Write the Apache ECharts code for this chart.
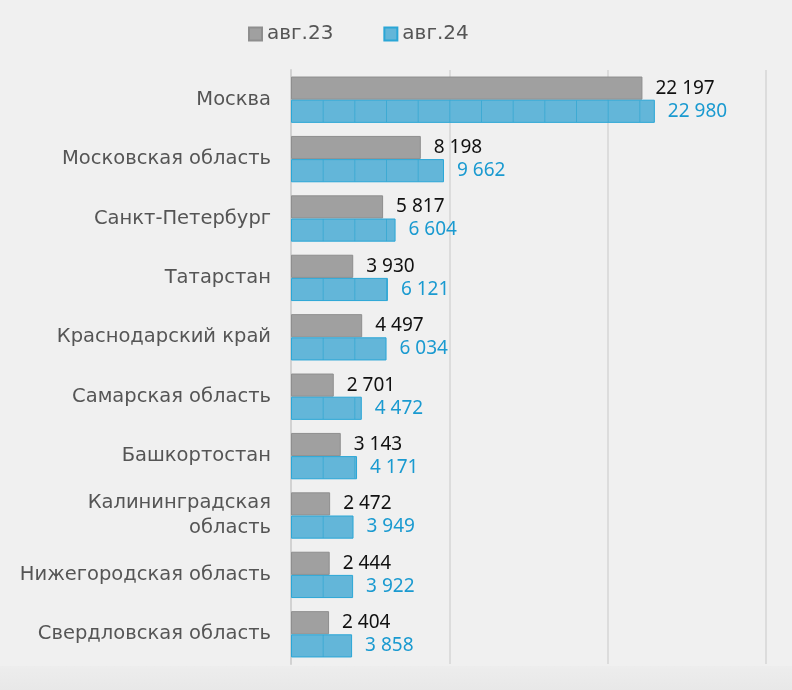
<!DOCTYPE html>
<html>
<head>
<meta charset="utf-8">
<script src="https://cdn.jsdelivr.net/npm/echarts@6/dist/echarts.min.js"></script>
<style>
  html, body { margin: 0; padding: 0; background: #f0f0f0; }
  #chart { width: 792px; height: 690px; }
</style>
</head>
<body>
<div id="chart"></div>
<script>
var regions = [
  "Москва",
  "Московская область",
  "Санкт-Петербург",
  "Татарстан",
  "Краснодарский край",
  "Самарская область",
  "Башкортостан",
  "Калининградская\nобласть",
  "Нижегородская область",
  "Свердловская область"
];
var aug23 = [22197, 8198, 5817, 3930, 4497, 2701, 3143, 2472, 2444, 2404];
var aug24 = [22980, 9662, 6604, 6121, 6034, 4472, 4171, 3949, 3922, 3858];
var seriesNames = ["авг.23", "авг.24"];
var axisMax = 30000;
var axisStep = 10000;
var stripeStep = 2000;

var FONT = "Noto Sans";
var CAT_FONT = "DejaVu Sans";

function fmt(v) {
  return String(v).replace(/\B(?=(\d{3})+(?!\d))/g, " ");
}

var chart = echarts.init(document.getElementById("chart"), null, { renderer: "canvas" });

function getOption(blueFill) {
  return {
    backgroundColor: "#f0f0f0",
    animation: false,
    legend: {
      top: 19,
      left: 243,
      itemWidth: 13,
      itemHeight: 13,
      itemGap: 50,
      icon: "rect",
      textStyle: { fontFamily: CAT_FONT, fontSize: 20, color: "#555" },
      data: [
        { name: seriesNames[0], itemStyle: { color: "#a0a0a0", borderColor: "#8e8e8e" } },
        { name: seriesNames[1], itemStyle: { color: "#63b6d9", borderColor: "#2aa6d6" } }
      ]
    },
    graphic: [{
      type: "rect",
      left: 0,
      bottom: 0,
      shape: { width: 792, height: 24 },
      style: {
        fill: new echarts.graphic.LinearGradient(0, 0, 0, 1, [
          { offset: 0, color: "#ededed" },
          { offset: 1, color: "#e8e8e8" }
        ])
      },
      z: -1
    }],
    grid: { left: 291, right: 26, top: 70, bottom: 26, containLabel: false },
    xAxis: {
      type: "value",
      min: 0,
      max: axisMax,
      interval: axisStep,
      axisLabel: { show: false },
      axisLine: { show: false },
      axisTick: { show: false },
      splitLine: { lineStyle: { color: "#d6d6d6", width: 1.5 } }
    },
    yAxis: {
      type: "category",
      inverse: true,
      data: regions,
      axisTick: { show: false },
      axisLine: { lineStyle: { color: "#d2d2d2", width: 2 } },
      axisLabel: {
        margin: 20,
        fontFamily: CAT_FONT,
        fontSize: 19.5,
        lineHeight: 25,
        color: "#555",
        align: "right"
      }
    },
    series: [
      {
        name: seriesNames[0],
        type: "bar",
        data: aug23,
        barGap: "0%",
        barCategoryGap: "22%",
        itemStyle: { color: "#a0a0a0", borderColor: "#8e8e8e", borderWidth: 1 },
        label: {
          show: true,
          position: "right",
          distance: 13,
          fontFamily: FONT,
          fontSize: 19,
          color: "#111",
          formatter: function (p) { return fmt(p.value); }
        }
      },
      {
        name: seriesNames[1],
        type: "bar",
        data: aug24,
        itemStyle: { color: blueFill || "#63b6d9", borderColor: "#2aa6d6", borderWidth: 1 },
        label: {
          show: true,
          position: "right",
          distance: 13,
          fontFamily: FONT,
          fontSize: 19,
          color: "#1a9ad0",
          formatter: function (p) { return fmt(p.value); }
        }
      }
    ]
  };
}

chart.setOption(getOption());

// vertical stripes in the blue bars, every stripeStep units on the value axis
var x0 = chart.convertToPixel({ xAxisIndex: 0 }, 0);
var step = chart.convertToPixel({ xAxisIndex: 0 }, stripeStep) - x0;
var w = Math.round(step);
var cv = document.createElement("canvas");
cv.width = w;
cv.height = 4;
var ctx = cv.getContext("2d");
ctx.fillStyle = "#63b6d9";
ctx.fillRect(0, 0, w, 4);
ctx.fillStyle = "#3eaad3";
ctx.fillRect(0, 0, 1, 4);
var pattern = { image: cv, repeat: "repeat", x: x0, y: 0, scaleX: step / w, scaleY: 1 };
chart.setOption(getOption(pattern));
</script>
</body>
</html>
